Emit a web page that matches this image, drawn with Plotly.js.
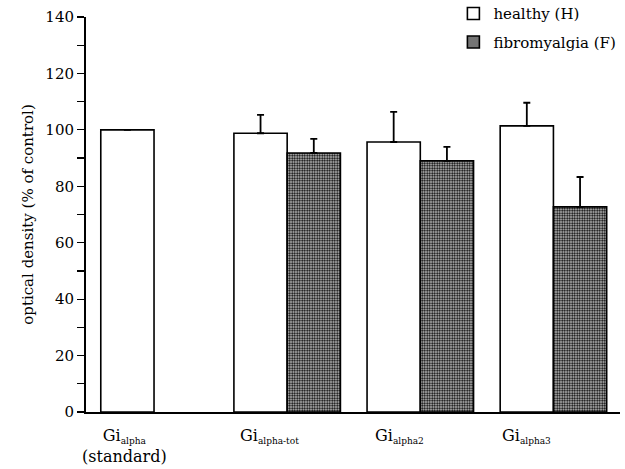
<!DOCTYPE html>
<html>
<head>
<meta charset="utf-8">
<script src="https://cdn.plot.ly/plotly-3.0.1.min.js"></script>
<style>html,body{margin:0;padding:0;background:#fff;}#chart{width:625px;height:469px;}</style>
</head>
<body>
<div id="chart"></div>
<script>
// ---- data ----
var groupIdx = [0, 1, 2, 3];
var groupLabels = ["Gi<sub><span style='font-size:9px'>alpha</span></sub><br>(standard)",
                   "Gi<sub><span style='font-size:9px'>alpha-tot</span></sub>",
                   "Gi<sub><span style='font-size:9px'>alpha2</span></sub>",
                   "Gi<sub><span style='font-size:9px'>alpha3</span></sub>"];
var healthyX = [0, 1, 2, 3];
var healthyVals = [100, 98.8, 95.7, 101.4];
var healthyErr = [0, 6.5, 10.7, 8.2];
var fibroX = [1, 2, 3];
var fibroVals = [91.8, 89.0, 72.7];
var fibroErr = [5.0, 5.0, 10.6];
var seriesNames = ["healthy (H)", "fibromyalgia (F)"];

var FONT = "DejaVu Serif, Liberation Serif, serif";

var traces = [
  {
    type: "bar", name: seriesNames[0], x: healthyX, y: healthyVals,
    legendgroup: "h",
    marker: {color: "#ffffff", line: {color: "#000", width: 1.6}},
    error_y: {type: "data", symmetric: false, array: healthyErr,
              arrayminus: healthyErr.map(function(){return 0;}),
              color: "#000", thickness: 1.8, width: 3.5}
  },
  {
    type: "bar", name: seriesNames[1], x: fibroX, y: fibroVals,
    legendgroup: "f",
    marker: {color: "#bbbbbb", line: {color: "#000", width: 1.6},
             pattern: {shape: ".", fgcolor: "#000", bgcolor: "#d0d0d0", size: 2.5, solidity: 0.5}},
    error_y: {type: "data", symmetric: false, array: fibroErr,
              arrayminus: fibroErr.map(function(){return 0;}),
              color: "#000", thickness: 1.8, width: 3.5}
  }
];

var labelOffsets = [-0.22, -0.13, -0.16, -0.2];
var annotations = groupIdx.map(function(g, i){
  return {x: g + labelOffsets[i], xref: "x", y: -0.03, yref: "paper",
          xanchor: "center", yanchor: "top", showarrow: false,
          text: groupLabels[i], align: "center",
          font: {family: FONT, size: 16, color: "#000"}};
});

var layout = {
  width: 625, height: 469,
  margin: {l: 86, r: 5, t: 17, b: 57, autoexpand: false},
  paper_bgcolor: "#fff", plot_bgcolor: "#fff",
  barmode: "group", bargap: 0.2, bargroupgap: 0,
  font: {family: FONT, size: 15, color: "#000"},
  showlegend: true,
  legend: {x: 0.688, xanchor: "left", y: 1.05, yanchor: "top",
           traceorder: "grouped", tracegroupgap: 6,
           font: {family: FONT, size: 15, color: "#000"},
           bgcolor: "rgba(0,0,0,0)"},
  xaxis: {range: [-0.511, 3.5], showticklabels: false, ticks: "",
          showgrid: false, zeroline: false, showline: true,
          linecolor: "#000", linewidth: 1.5, fixedrange: true},
  yaxis: {range: [0, 140], dtick: 20, tick0: 0, ticks: "outside", ticklen: 7,
          tickwidth: 1.2, tickcolor: "#000",
          minor: {dtick: 10, ticks: "outside", ticklen: 7, tickwidth: 1.2, tickcolor: "#000"},
          showgrid: false, zeroline: false, showline: true,
          linecolor: "#000", linewidth: 2,
          tickfont: {family: FONT, size: 15, color: "#000"},
          title: {text: "optical density (% of control)", standoff: 8,
                  font: {family: FONT, size: 15, color: "#000"}}},
  annotations: annotations
};

Plotly.newPlot("chart", traces, layout, {displayModeBar: false, staticPlot: true});
</script>
</body>
</html>
